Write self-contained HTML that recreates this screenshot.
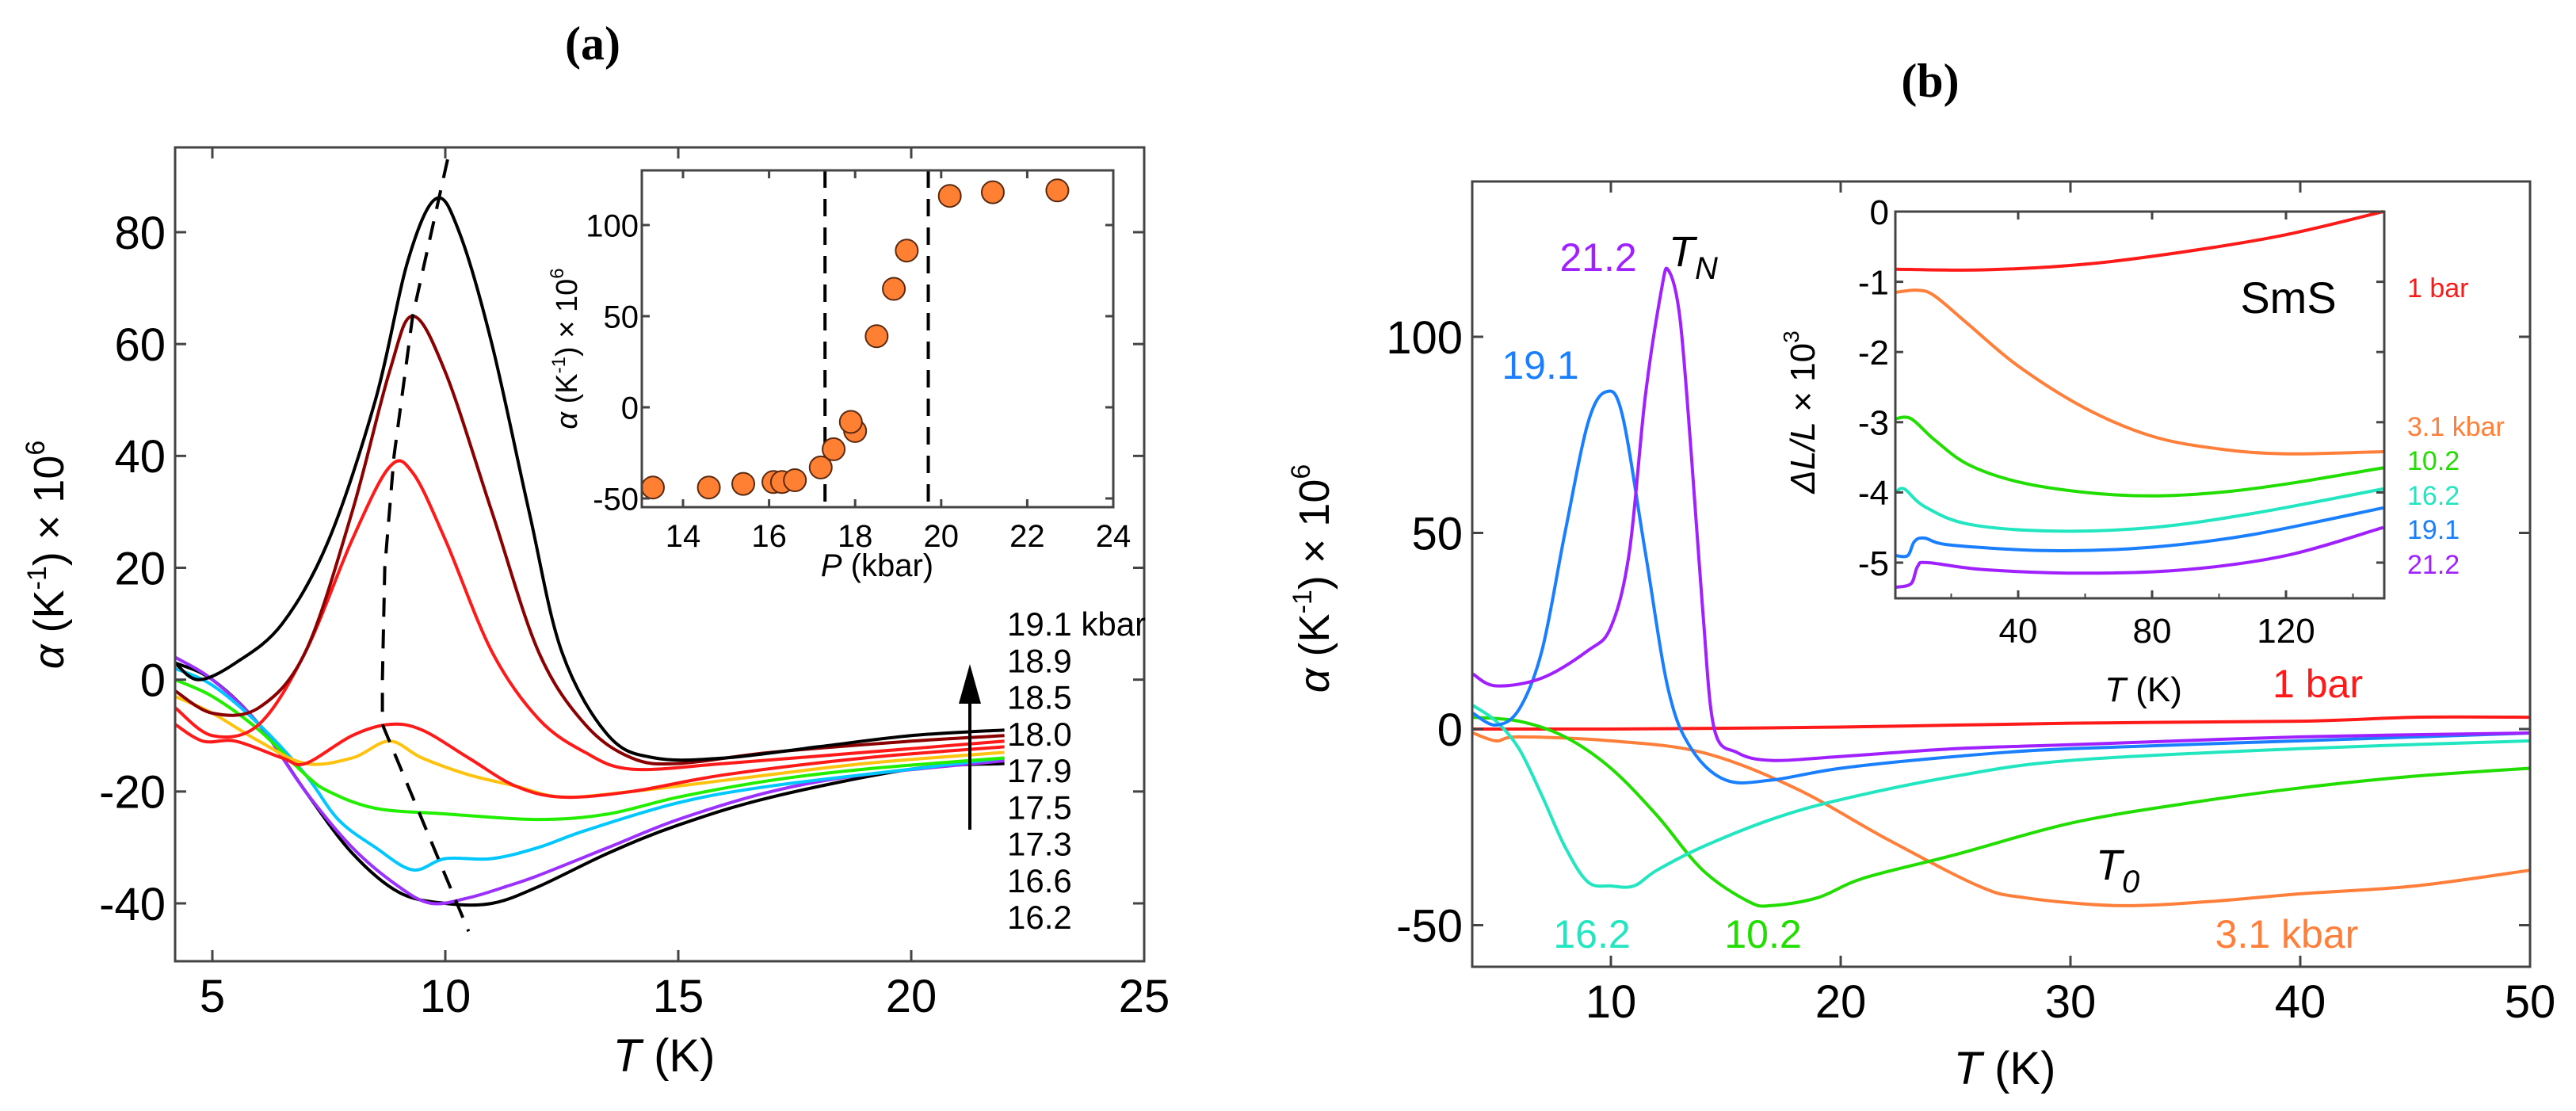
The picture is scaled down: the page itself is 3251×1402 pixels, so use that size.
<!DOCTYPE html>
<html><head><meta charset="utf-8"><style>
html,body{margin:0;padding:0;background:#fff;}
svg{display:block;font-family:"Liberation Sans",Arial,sans-serif;}
</style></head><body>
<svg id="fig" width="3251" height="1402" viewBox="0 0 3251 1402" xmlns="http://www.w3.org/2000/svg">
<text x="748" y="75" font-family="Liberation Serif,serif" font-weight="bold" font-size="60" text-anchor="middle">(a)</text>
<text x="2436" y="122" font-family="Liberation Serif,serif" font-weight="bold" font-size="60" text-anchor="middle">(b)</text>
<g id="gA"></g>
<g id="gAi"></g>
<g id="gB"></g>
<g id="gBi"></g>
</svg>
<script>
// ---------- Panel (a) data ----------
const aLabels = ["19.1","18.9","18.5","18.0","17.9","17.5","17.3","16.6","16.2"];
const aColors = ["#000","#8b0000","#ff1a1a","#ff1a1a","#ffc20e","#22ee00","#00c8ff","#9b30ff","#000"];
const aT = [
 [4.2,4.7,5.5,6.5,7.5,8.5,9.2,9.8,10.3,11,11.8,12.5,13.5,14.5,16,18,20,22],
 [4.2,5,6,7,8,8.8,9.3,10,11,12,13,14,15,17,20,22],
 [4.2,5,6,7,8,8.8,9.3,10,11,12,13,14,16,19,22],
 [4.2,4.8,5.5,6.5,7,8,8.8,9.5,10.5,11.5,12.5,14,16,19,22],
 [4.2,5,6,7,8,8.8,9.5,10.5,11.5,12.5,14,16,19,22],
 [4.2,5,6,7,7.5,8.5,10,12,13.5,15,17,19,22],
 [4.2,5,6,7,7.7,8.5,9.3,10,11,12,13,15,17,20,22],
 [4.2,5,6,7,8,9,9.7,10.5,11.3,12,13.5,15,17,19,22],
 [4.2,5,6,7,8,9,10,11,12,13.5,15,17,20,22]
];
const aV = [
 [3,0,3,10,25,50,75,86,80,60,30,5,-10,-14,-14,-12,-10,-9],
 [-2,-6,-5,5,30,55,65,55,30,5,-8,-14,-15,-13,-11,-10],
 [-5,-10,-8,5,25,38,37,25,5,-7,-13,-16,-15,-13,-11],
 [-8,-11,-11,-14,-15,-10,-8,-9,-14,-19,-21,-20,-17,-14,-12],
 [-3,-6,-11,-15,-14,-11,-14,-17,-19,-21,-20,-18,-15,-13],
 [0,-3,-9,-17,-20,-23,-24,-25,-24,-21,-18,-16,-14],
 [2,-1,-8,-17,-25,-30,-34,-32,-32,-30,-27,-22,-19,-16,-14],
 [4,0,-8,-20,-30,-37,-40,-39,-37,-35,-30,-25,-20,-17,-14.5],
 [3,0,-8,-20,-31,-38,-40,-40,-37,-31,-26,-21,-16,-15]
];
const aDashT = [10.05,9.3,8.9,8.7,8.65,8.65,10.5];
const aDashV = [93,65,40,20,0,-8,-45];
const aXTicks = [5,10,15,20,25];
const aYTicks = [-40,-20,0,20,40,60,80];
// inset (a)
const aiP = [13.3,14.6,15.4,16.1,16.3,16.6,17.2,17.5,18.0,17.9,18.5,18.9,19.2,20.2,21.2,22.7];
const aiA = [-44,-44,-42,-41,-41,-40,-33,-23,-13,-8,39,65,86,116,118,119];
const aiDash = [17.3,19.7];
const aiXTicks = [14,16,18,20,22,24];
const aiYTicks = [-50,0,50,100];
// ---------- Panel (b) data ----------
const bNames = ["1-bar","3.1-kbar","10.2","16.2","19.1","21.2"];
const bColors = ["#ff1a1a","#ff7f3a","#22dd00","#22e6c0","#1a7fff","#a020ff"];
const bT = [
 [4,10,20,30,40,45,50],
 [4,5,6,10,14,18,22,26,28,32,36,40,45,50],
 [4,6,8,10,12,14,16,17,19,21,25,30,35,40,45,50],
 [4,5,6,7,8,9,10,11,12,14,17,20,25,30,40,50],
 [4,5,6,7,8,9,9.8,10.5,11.5,12.5,13.5,15,17,20,25,30,40,50],
 [4,5,7,9,10,10.8,11.5,12.2,12.5,13,13.5,14,14.5,15.5,17,20,25,30,40,50]
];
const bV = [
 [0,0,0.5,1.5,2,3,3],
 [-1,-3,-2,-3,-6,-15,-28,-40,-43,-45,-44,-42,-40,-36],
 [3,2,-2,-10,-22,-36,-44,-45,-43,-38,-32,-24,-19,-15,-12,-10],
 [6,2,-5,-17,-30,-39,-40,-40,-36,-30,-23,-18,-12,-8,-5,-3],
 [4,1,5,20,50,78,86,80,45,10,-5,-13,-13,-10,-7,-5,-3,-1],
 [14,11,13,20,26,45,85,112,117,105,70,30,0,-6,-8,-7,-5,-4,-2,-1]
];
const bXTicks = [10,20,30,40,50];
const bYTicks = [-50,0,50,100];
// inset (b)
const biT = [
 [3.4,30,60,90,120,149],
 [3.4,10,15,25,40,60,80,100,120,149],
 [3.4,8,15,25,40,60,80,100,120,149],
 [3.4,6,12,25,50,80,110,149],
 [3.4,7,9,12,20,50,80,110,149],
 [3.4,8,10,13,30,60,90,120,149]
];
const biV = [
 [-0.82,-0.83,-0.75,-0.57,-0.33,0],
 [-1.15,-1.12,-1.2,-1.6,-2.2,-2.8,-3.2,-3.38,-3.45,-3.42],
 [-2.95,-2.95,-3.25,-3.6,-3.85,-4.0,-4.05,-4.0,-3.88,-3.65],
 [-4.0,-3.95,-4.2,-4.45,-4.55,-4.5,-4.3,-3.95],
 [-4.9,-4.9,-4.7,-4.65,-4.75,-4.83,-4.78,-4.6,-4.22],
 [-5.35,-5.3,-5.05,-5.0,-5.1,-5.15,-5.1,-4.9,-4.5]
];
const biXTicks = [40,80,120];
const biYTicks = [0,-1,-2,-3,-4,-5];

const NS="http://www.w3.org/2000/svg";
function mk(parent,tag,attrs,txt){const e=document.createElementNS(NS,tag);for(const k in attrs)e.setAttribute(k,attrs[k]);if(txt!==undefined)e.textContent=txt;parent.appendChild(e);return e;}
function lin(d0,d1,r0,r1){return v=>r0+(v-d0)*(r1-r0)/(d1-d0);}
function smooth(pts){let d="M"+pts[0][0].toFixed(1)+","+pts[0][1].toFixed(1);
 for(let i=0;i<pts.length-1;i++){const p0=pts[Math.max(0,i-1)],p1=pts[i],p2=pts[i+1],p3=pts[Math.min(pts.length-1,i+2)];
  const c1=[p1[0]+(p2[0]-p0[0])/6,p1[1]+(p2[1]-p0[1])/6],c2=[p2[0]-(p3[0]-p1[0])/6,p2[1]-(p3[1]-p1[1])/6];
  d+="C"+c1[0].toFixed(1)+","+c1[1].toFixed(1)+" "+c2[0].toFixed(1)+","+c2[1].toFixed(1)+" "+p2[0].toFixed(1)+","+p2[1].toFixed(1);}
 return d;}
function frame(g,x0,y0,x1,y1,name){const r=mk(g,"rect",{x:x0,y:y0,width:x1-x0,height:y1-y0,fill:"none",stroke:"#444","stroke-width":3});
 
 }
function ticksX(g,ticks,X,y0,y1,len,fs,dy,name){ticks.forEach(t=>{const x=X(t);
 mk(g,"line",{x1:x,y1:y1,x2:x,y2:y1-len,stroke:"#444","stroke-width":3});
 mk(g,"line",{x1:x,y1:y0,x2:x,y2:y0+len,stroke:"#444","stroke-width":3});
 const tx=mk(g,"text",{x:x,y:y1+dy,"font-size":fs,"text-anchor":"middle"},String(t));
 
 });}
function ticksY(g,ticks,Y,x0,x1,len,fs,dx,name){ticks.forEach(t=>{const y=Y(t);
 mk(g,"line",{x1:x0,y1:y,x2:x0+len,y2:y,stroke:"#444","stroke-width":3});
 mk(g,"line",{x1:x1,y1:y,x2:x1-len,y2:y,stroke:"#444","stroke-width":3});
 const tx=mk(g,"text",{x:x0-dx,y:y+fs*0.36,"font-size":fs,"text-anchor":"end"},String(t));
 
 });}

// ===== Panel a =====
(function(){
 const g=document.getElementById("gA");
 const X=lin(5,25,268,1444), Y=lin(80,-40,293,1140);
 const x0=221,x1=1444,y0=186,y1=1213;
 for(let i=aT.length-1;i>=0;i--){
  const p=mk(g,"path",{d:smooth(aT[i].map((t,j)=>[X(t),Y(aV[i][j])])),fill:"none",stroke:aColors[i],"stroke-width":4,"stroke-linejoin":"round"});
  
  
 }
 const dl=mk(g,"polyline",{points:aDashT.map((t,j)=>X(t).toFixed(1)+","+Y(aDashV[j]).toFixed(1)).join(" "),fill:"none",stroke:"#000","stroke-width":4,"stroke-dasharray":"24,16"});
 
 
 frame(g,x0,y0,x1,y1,'panel-a-frame');
 ticksX(g,aXTicks,X,y0,y1,14,58,64,'x-tick-label');
 ticksY(g,aYTicks,Y,x0,x1,14,58,12,'y-tick-label');
 aLabels.forEach((l,i)=>{const t=mk(g,"text",{x:1271,y:802+i*46.25,"font-size":42},i===0?l+" kbar":l);
  
  });
 const ar=mk(g,"g",{});
 
 
 mk(ar,"line",{x1:1224,y1:1047,x2:1224,y2:880,stroke:"#000","stroke-width":4});
 mk(ar,"polygon",{points:"1224,838 1210,888 1238,888",fill:"#000"});
 const xl=mk(g,"text",{x:838,y:1352,"font-size":58,"text-anchor":"middle"});
 xl.innerHTML='<tspan font-style="italic">T</tspan> (K)';
 
 
 const yl=mk(g,"text",{x:0,y:0,"font-size":54,"text-anchor":"middle",transform:"translate(80,700) rotate(-90)"});
 yl.innerHTML='<tspan font-style="italic">α</tspan> (K<tspan dy="-22" font-size="34">-1</tspan><tspan dy="22">)  ×  10</tspan><tspan dy="-24" font-size="34">6</tspan>';
 
 
})();
// ===== Inset a =====
(function(){
 const g=document.getElementById("gAi");
 const X=lin(14,24,862,1405), Y=lin(0,100,514,284);
 const x0=810,x1=1405,y0=215,y1=640;
 mk(g,"rect",{x:x0,y:y0,width:x1-x0,height:y1-y0,fill:"#fff"});
 aiDash.forEach(p=>{const l=mk(g,"line",{x1:X(p),y1:y0,x2:X(p),y2:y1,stroke:"#000","stroke-width":4,"stroke-dasharray":"22,14"});
  
  });
 aiP.forEach((p,i)=>{const c=mk(g,"circle",{cx:X(p),cy:Y(aiA[i]),r:14,fill:"#ff7f33",stroke:"#5a2a10","stroke-width":2});
  
  });
 frame(g,x0,y0,x1,y1,'inset-a-frame');
 ticksX(g,aiXTicks,X,y0,y1,10,40,50,'inset-x-tick-label');
 ticksY(g,aiYTicks,Y,x0,x1,10,40,4,'inset-y-tick-label');
 const xl=mk(g,"text",{x:1107,y:727,"font-size":40,"text-anchor":"middle"});
 xl.innerHTML='<tspan font-style="italic">P</tspan> (kbar)';
 
 
 const yl=mk(g,"text",{x:0,y:0,"font-size":38,"text-anchor":"middle",transform:"translate(728,440) rotate(-90)"});
 yl.innerHTML='<tspan font-style="italic">α</tspan> (K<tspan dy="-15" font-size="24">-1</tspan><tspan dy="15">)  ×  10</tspan><tspan dy="-17" font-size="24">6</tspan>';
 
 
})();
// ===== Panel b =====
(function(){
 const g=document.getElementById("gB");
 const X=lin(10,50,2033,3193), Y=lin(0,100,920,425);
 const x0=1858,x1=3193,y0=229,y1=1220;
 for(let i=0;i<bT.length;i++){
  const p=mk(g,"path",{d:smooth(bT[i].map((t,j)=>[X(t),Y(bV[i][j])])),fill:"none",stroke:bColors[i],"stroke-width":4,"stroke-linejoin":"round"});
  
  
 }
 frame(g,x0,y0,x1,y1,'panel-b-frame');
 ticksX(g,bXTicks,X,y0,y1,14,58,64,'x-tick-label');
 ticksY(g,bYTicks,Y,x0,x1,14,58,12,'y-tick-label');
 const labs=[["21.2",2017,342,"#a020ff","label-21-2"],["19.1",1944,478,"#1a7fff","label-19-1"],["16.2",2009,1196,"#22e6c0","label-16-2"],["10.2",2225,1196,"#22dd00","label-10-2"],["3.1 kbar",2886,1196,"#ff7f3a","label-3-1-kbar"],["1 bar",2925,880,"#ff1a1a","label-1-bar"]];
 labs.forEach(l=>{const t=mk(g,"text",{x:l[1],y:l[2],"font-size":50,fill:l[3],"text-anchor":"middle"},l[0]);
  
  });
 const tn=mk(g,"text",{x:2106,y:336,"font-size":54,"font-style":"italic"});
 tn.innerHTML='T<tspan dy="16" font-size="40">N</tspan>';
 
 
 const t0=mk(g,"text",{x:2645,y:1110,"font-size":54,"font-style":"italic"});
 t0.innerHTML='T<tspan dy="16" font-size="40">0</tspan>';
 
 
 const xl=mk(g,"text",{x:2530,y:1368,"font-size":58,"text-anchor":"middle"});
 xl.innerHTML='<tspan font-style="italic">T</tspan> (K)';
 
 
 const yl=mk(g,"text",{x:0,y:0,"font-size":54,"text-anchor":"middle",transform:"translate(1677,730) rotate(-90)"});
 yl.innerHTML='<tspan font-style="italic">α</tspan> (K<tspan dy="-22" font-size="34">-1</tspan><tspan dy="22">)  ×  10</tspan><tspan dy="-24" font-size="34">6</tspan>';
 
 
})();
// ===== Inset b =====
(function(){
 const g=document.getElementById("gBi");
 const X=lin(40,120,2547,2885), Y=lin(0,-5,267,710);
 const x0=2392,x1=3009,y0=267,y1=755;
 mk(g,"rect",{x:x0,y:y0,width:x1-x0,height:y1-y0,fill:"#fff"});
 for(let i=0;i<biT.length;i++){
  const p=mk(g,"path",{d:smooth(biT[i].map((t,j)=>[X(t),Y(biV[i][j])])),fill:"none",stroke:bColors[i],"stroke-width":4});
  
  
 }
 frame(g,x0,y0,x1,y1,'inset-b-frame');
 [20,60,100,140].forEach(t=>{mk(g,"line",{x1:X(t),y1:y1,x2:X(t),y2:y1-6,stroke:"#444","stroke-width":2});});
 ticksX(g,biXTicks,X,y0,y1,10,44,56,'inset-x-tick-label');
 ticksY(g,biYTicks,Y,x0,x1,10,44,8,'inset-y-tick-label');
 const sms=mk(g,"text",{x:2888,y:395,"font-size":56,"text-anchor":"middle"},"SmS");
 
 
 const rl=[["1 bar",363],["3.1 kbar",538],["10.2",581],["16.2",625],["19.1",668],["21.2",712]];
 rl.forEach((l,i)=>{const t=mk(g,"text",{x:3038,y:l[1]+12,"font-size":34,fill:bColors[i]},l[0]);
  
  });
 const xl=mk(g,"text",{x:2705,y:885,"font-size":44,"text-anchor":"middle"});
 xl.innerHTML='<tspan font-style="italic">T</tspan> (K)';
 
 
 const yl=mk(g,"text",{x:0,y:0,"font-size":44,"text-anchor":"middle",transform:"translate(2290,520) rotate(-90)"});
 yl.innerHTML='<tspan font-style="italic">ΔL/L</tspan>  ×  10<tspan dy="-20" font-size="28">3</tspan>';
 
 
})();
</script>
</body></html>
